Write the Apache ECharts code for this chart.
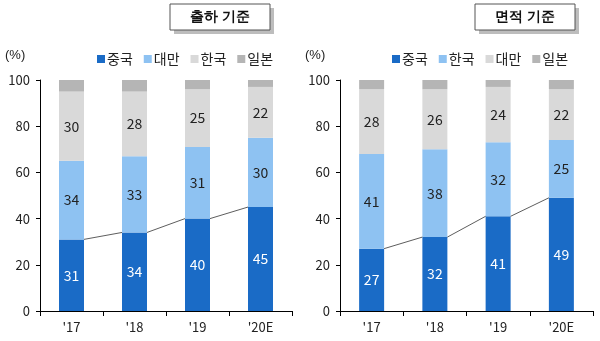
<!DOCTYPE html>
<html><head><meta charset="utf-8">
<script src="https://cdn.jsdelivr.net/npm/echarts@6/dist/echarts.min.js"></script>
<style>html,body{margin:0;padding:0;background:#fff}#c{width:600px;height:341px}</style>
</head><body><div id="c"></div>
<script>
var categories = ["'17", "'18", "'19", "'20E"];
var yTicks = [0, 20, 40, 60, 80, 100];
// 출하 기준
var shipChina = [31, 34, 40, 45];
var shipTaiwan = [34, 33, 31, 30];
var shipKorea = [30, 28, 25, 22];
var shipJapan = [5, 5, 4, 3];
// 면적 기준
var areaChina = [27, 32, 41, 49];
var areaKorea = [41, 38, 32, 25];
var areaTaiwan = [28, 26, 24, 22];
var areaJapan = [4, 4, 3, 4];

var C_DARK = '#1a6bc6', C_LIGHT = '#8ec2f2', C_GRAY1 = '#d9d9d9', C_GRAY2 = '#b5b5b5';
var FONT = '"Noto Sans CJK KR", "Noto Sans", sans-serif';
var BAR_W = 25;

function bar(name, data, color, idx, labelColor) {
  return {
    name: name, type: 'bar', stack: 's' + idx, xAxisIndex: idx, yAxisIndex: idx,
    data: data, barWidth: BAR_W, itemStyle: { color: color },
    label: labelColor ? { show: true, position: 'inside', color: labelColor, fontSize: 14, fontFamily: FONT } : { show: false },
    emphasis: { disabled: true }
  };
}
function connector(vals, idx) {
  var d = [];
  for (var i = 0; i < vals.length - 1; i++) d.push([i, vals[i], vals[i + 1]]);
  return {
    type: 'custom', xAxisIndex: idx, yAxisIndex: idx, data: d, z: 5, silent: true,
    renderItem: function (params, api) {
      var i = api.value(0);
      var p1 = api.coord([i, api.value(1)]);
      var p2 = api.coord([i + 1, api.value(2)]);
      var hw = BAR_W / 2;
      return { type: 'line', shape: { x1: p1[0] + hw, y1: p1[1], x2: p2[0] - hw, y2: p2[1] },
        style: { stroke: '#333', lineWidth: 0.8 } };
    }
  };
}
function xAx(idx) {
  return { type: 'category', gridIndex: idx, data: categories,
    axisLine: { lineStyle: { color: '#000', width: 1 } },
    axisTick: { show: true, length: 5, lineStyle: { color: '#000' } },
    axisLabel: { color: '#222', fontSize: 13, margin: 10, fontFamily: FONT } };
}
function yAx(idx) {
  return { type: 'value', gridIndex: idx, min: 0, max: 100, interval: 20,
    axisLine: { show: true, lineStyle: { color: '#000', width: 1 } },
    axisTick: { show: true, length: 4, lineStyle: { color: '#000' } },
    splitLine: { show: false },
    axisLabel: { color: '#222', fontSize: 13, margin: 10, fontFamily: FONT,
      formatter: function (v) { return yTicks.indexOf(v) >= 0 ? String(v) : ''; } } };
}
function titleBox(x, text) {
  return [
    { type: 'rect', shape: { x: x + 4, y: 8, width: 100, height: 26 }, style: { fill: '#bdbdbd' }, z: 1 },
    { type: 'rect', shape: { x: x, y: 4, width: 100, height: 26 }, style: { fill: '#fff', stroke: '#555', lineWidth: 1 }, z: 2 },
    { type: 'text', x: x + 50, y: 17, z: 3, style: { text: text, fontSize: 14, fontWeight: 'bold', fill: '#111', align: 'center', verticalAlign: 'middle', font: 'bold 14px ' + FONT } }
  ];
}
function legendCfg(left, names, colors) {
  return { left: left, top: 47, icon: 'rect', itemWidth: 8, itemHeight: 8, itemGap: 11,
    textStyle: { fontSize: 14, color: '#222', fontFamily: FONT, padding: [0, 0, 0, -3] },
    data: names.map(function (n, i) { return { name: n, itemStyle: { color: colors[i] } }; }) };
}

var chart = echarts.init(document.getElementById('c'));
chart.setOption({
  animation: false,
  textStyle: { fontFamily: FONT },
  grid: [
    { left: 40, right: 308, top: 80, bottom: 30 },
    { left: 340, right: 7, top: 80, bottom: 30 }
  ],
  xAxis: [xAx(0), xAx(1)],
  yAxis: [yAx(0), yAx(1)],
  legend: [
    legendCfg(92, ['중국', '대만', '한국', '일본'], [C_DARK, C_LIGHT, C_GRAY1, C_GRAY2]),
    legendCfg(387, ['중국', '한국', '대만', '일본'], [C_DARK, C_LIGHT, C_GRAY1, C_GRAY2])
  ],
  graphic: [].concat(
    titleBox(170, '출하 기준'),
    titleBox(475, '면적 기준'),
    [
      { type: 'text', x: 5, y: 55, style: { text: '(%)', fontSize: 13, fill: '#222', verticalAlign: 'middle', font: '13px ' + FONT } },
      { type: 'text', x: 305, y: 55, style: { text: '(%)', fontSize: 13, fill: '#222', verticalAlign: 'middle', font: '13px ' + FONT } }
    ]),
  series: [
    bar('중국', shipChina, C_DARK, 0, '#fff'),
    bar('대만', shipTaiwan, C_LIGHT, 0, '#222'),
    bar('한국', shipKorea, C_GRAY1, 0, '#222'),
    bar('일본', shipJapan, C_GRAY2, 0, null),
    connector(shipChina, 0),
    bar('중국', areaChina, C_DARK, 1, '#fff'),
    bar('한국', areaKorea, C_LIGHT, 1, '#222'),
    bar('대만', areaTaiwan, C_GRAY1, 1, '#222'),
    bar('일본', areaJapan, C_GRAY2, 1, null),
    connector(areaChina, 1)
  ]
});
</script></body></html>
